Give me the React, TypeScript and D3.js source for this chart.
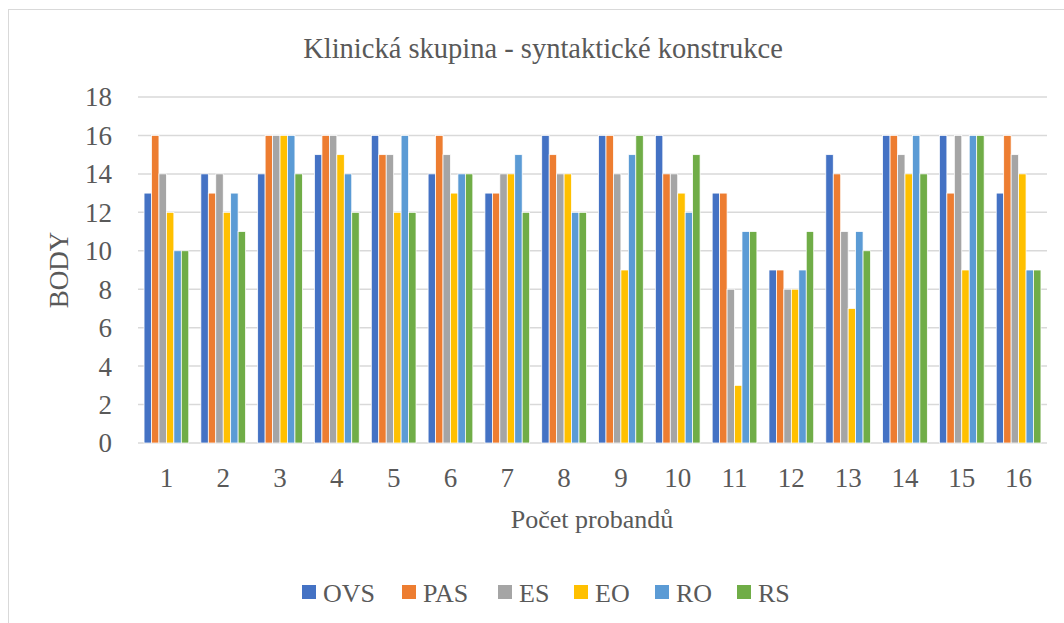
import React from "react";
import * as d3 from "d3";

const categories = ["1","2","3","4","5","6","7","8","9","10","11","12","13","14","15","16"];
const seriesNames = ["OVS","PAS","ES","EO","RO","RS"];
const OVS = [13,14,14,15,16,14,13,16,16,16,13,9,15,16,16,13];
const PAS = [16,13,16,16,15,16,13,15,16,14,13,9,14,16,13,16];
const ES  = [14,14,16,16,15,15,14,14,14,14,8,8,11,15,16,15];
const EO  = [12,12,16,15,12,13,14,14,9,13,3,8,7,14,9,14];
const RO  = [10,13,16,14,16,14,15,12,15,12,11,9,11,16,16,9];
const RS  = [10,11,14,12,12,14,12,12,16,15,11,11,10,14,16,9];
const seriesValues = [OVS, PAS, ES, EO, RO, RS];
const colors = ["#4472C4","#ED7D31","#A5A5A5","#FFC000","#5B9BD5","#70AD47"];
const yTicks = [0,2,4,6,8,10,12,14,16,18];

const FONT = "'Liberation Serif', 'Times New Roman', serif";
const TXT = "#595959";

export default function App() {
  const left = 138, right = 1047, top = 97, bottom = 443;
  const x0 = d3.scaleBand<string>().domain(categories).range([left, right]).paddingInner(0.213).paddingOuter(0.1065);
  const x1 = d3.scaleBand<string>().domain(seriesNames).range([0, x0.bandwidth()]).padding(0);
  const y = d3.scaleLinear().domain([0, 18]).range([bottom, top]);

  const legendX = [302, 402, 498, 574, 655, 737];

  return (
    <div style={{ position: "absolute", left: 0, top: 0 }}>
      <svg width={1064} height={623} style={{ display: "block", fontFamily: FONT }}>
        <rect x={0} y={0} width={1064} height={623} fill="#fff" />
        <rect x={8.5} y={9.5} width={1200} height={700} fill="#fff" stroke="#d9d9d9" strokeWidth={1} />
        <text x={543} y={58} textAnchor="middle" fontSize={28.5} fill={TXT}>Klinická skupina - syntaktické konstrukce</text>
        {yTicks.map(t => (
          <g key={t}>
            <line x1={left} x2={right} y1={y(t)} y2={y(t)} stroke="#d9d9d9" strokeWidth={1.5} />
            <text x={112} y={y(t)} dy="0.35em" textAnchor="end" fontSize={27} fill={TXT}>{t}</text>
          </g>
        ))}
        {categories.map((c, i) => (
          <g key={c}>
            {seriesNames.map((s, j) => {
              const v = seriesValues[j][i];
              return (
                <rect key={s}
                  x={(x0(c) as number) + (x1(s) as number)}
                  y={y(v)}
                  width={x1.bandwidth()}
                  height={y(0) - y(v)}
                  fill={colors[j]}
                  stroke="#fff"
                  strokeWidth={0.75}
                />
              );
            })}
            <text x={(x0(c) as number) + x0.bandwidth() / 2} y={487} textAnchor="middle" fontSize={27} fill={TXT}>{c}</text>
          </g>
        ))}
        <text transform="translate(68,270) rotate(-90)" textAnchor="middle" fontSize={27} fill={TXT}>BODY</text>
        <text x={592} y={528} textAnchor="middle" fontSize={26} fill={TXT}>Počet probandů</text>
        {seriesNames.map((s, j) => (
          <g key={s}>
            <rect x={legendX[j]} y={585} width={14} height={14} fill={colors[j]} />
            <text x={legendX[j] + 21} y={602} fontSize={26} fill={TXT}>{s}</text>
          </g>
        ))}
      </svg>
    </div>
  );
}
